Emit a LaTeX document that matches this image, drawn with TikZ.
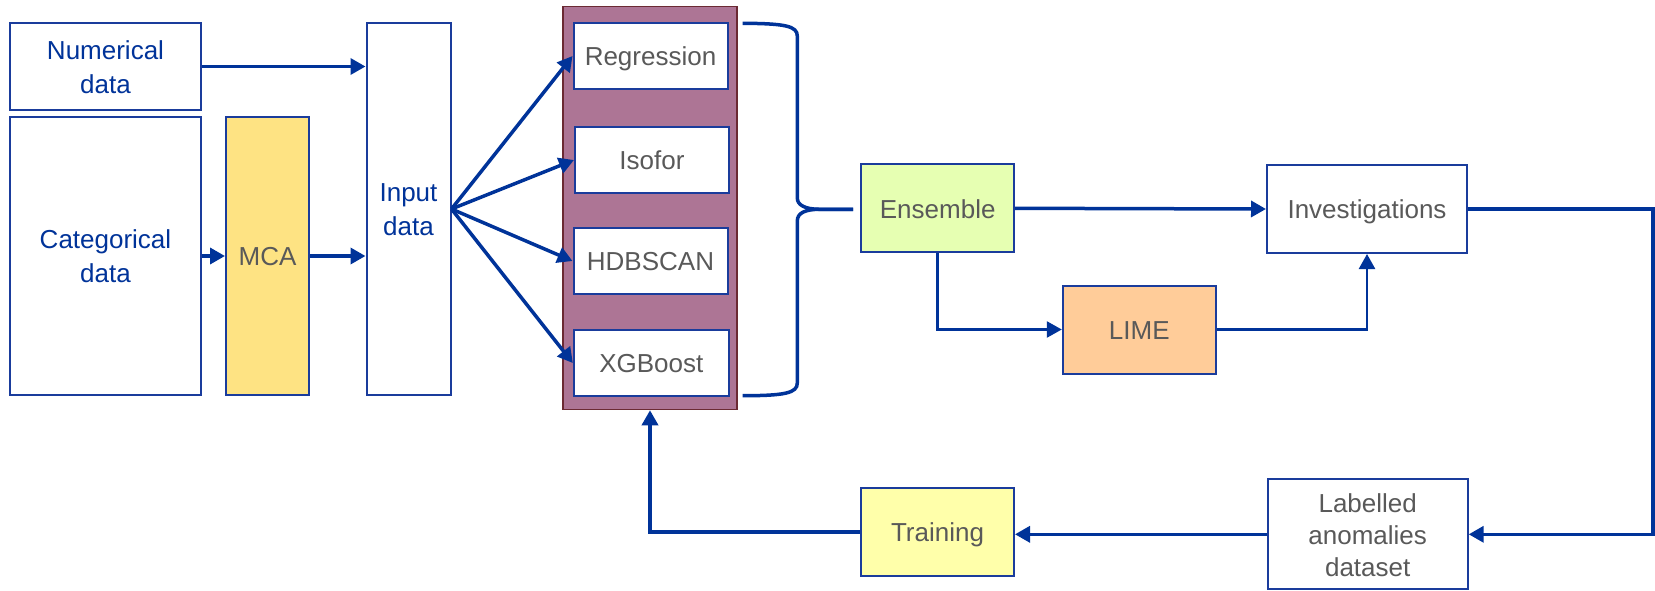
\documentclass[tikz,border=0pt]{standalone}
\usepackage{fontspec}
\setmainfont{Liberation Sans}
\usetikzlibrary{arrows.meta}
\definecolor{lblue}{HTML}{003399}
\definecolor{bblue}{HTML}{1A3C9C}
\definecolor{tgray}{HTML}{595959}
\definecolor{pfill}{HTML}{AD7595}
\definecolor{pborder}{HTML}{6B2A33}
\definecolor{mcafill}{HTML}{FEE383}
\definecolor{ensfill}{HTML}{E6FFB2}
\definecolor{limefill}{HTML}{FFCC99}
\definecolor{trnfill}{HTML}{FFFFAA}
\newcommand{\tx}[2][-3pt]{\raisebox{#1}[\height][\depth]{\begin{tabular}{@{}c@{}}#2\end{tabular}}}
\begin{document}
\begin{tikzpicture}[x=1pt,y=-1pt,
  box/.style={draw=bblue, line width=2pt, fill=white, inner sep=0pt,
    text=tgray, font=\fontsize{26}{34}\selectfont},
  conn/.style={draw=lblue, line width=3.5pt, -{Triangle[length=15pt,width=16pt]}},
  thinconn/.style={draw=lblue, line width=2.5pt, -{Triangle[length=15pt,width=16pt]}},
  bracestyle/.style={draw=lblue, line width=3.5pt}]
\useasboundingbox (0,0) rectangle (1655,590);

% left column
\node[box, text=lblue, minimum width=191, minimum height=87] (num) at (105.5,66.5) {\tx{Numerical\\data}};
\node[box, text=lblue, minimum width=191, minimum height=278] (cat) at (105.5,256) {\tx{Categorical\\data}};
\node[box, fill=mcafill, minimum width=83, minimum height=278] (mca) at (267.5,256) {\tx{MCA}};
\node[box, text=lblue, minimum width=84, minimum height=372] (inp) at (408.5,209) {\tx{Input\\data}};

% models
\node[draw=pborder, fill=pfill, line width=1.5pt, minimum width=174, minimum height=403, inner sep=0pt] (pur) at (650,208) {};
\node[box, minimum width=154, minimum height=66] (reg) at (650.5,56) {\tx{Regression}};
\node[box, minimum width=154, minimum height=66] (iso) at (652,160) {\tx{Isofor}};
\node[box, minimum width=154, minimum height=66] (hdb) at (650.5,261) {\tx{HDBSCAN}};
\node[box, minimum width=155, minimum height=66] (xgb) at (651.3,363) {\tx{XGBoost}};

% right part
\node[box, fill=ensfill, minimum width=153, minimum height=88] (ens) at (937.7,208.3) {\tx{Ensemble}};
\node[box, minimum width=200, minimum height=88] (inv) at (1367,209) {\tx{Investigations}};
\node[box, fill=limefill, minimum width=153, minimum height=88] (lime) at (1139.3,329.5) {\tx{LIME}};
\node[box, fill=trnfill, minimum width=153, minimum height=88] (trn) at (937.5,532) {\tx{Training}};
\node[box, minimum width=200, minimum height=110] (lab) at (1367.7,534.3) {\def\arraystretch{0.94}\tx[-3.4pt]{Labelled\\anomalies\\dataset}};

% connectors
\draw[conn] (num.east) -- (num.east -| inp.west);
\draw[conn] (cat.east) -- (mca.west);
\draw[conn] (mca.east) -- (mca.east -| inp.west);
\draw[conn] (inp.east) -- (reg.west);
\draw[conn] (inp.east) -- (iso.west);
\draw[conn] (inp.east) -- (hdb.west);
\draw[conn] (inp.east) -- (xgb.west);

% brace
\draw[bracestyle] (742.7,23.3) .. controls (785,23.5) and (797.3,26) .. (797.3,36)
  -- (797.3,198) .. controls (797.3,205) and (805,209.3) .. (820,209.3) -- (853,209.3);
\draw[bracestyle] (853,209.3) -- (820,209.3) .. controls (805,209.3) and (797.3,213) .. (797.3,221)
  -- (797.3,383) .. controls (797.3,393) and (785,395.7) .. (742.7,395.7);

\draw[conn] (ens.east) -- (inv.west);
\draw[thinconn] (ens.south) |- (lime.west);
\draw[thinconn] (lime.east) -| (inv.south);
\draw[conn] (inv.east) -- ++(185,0) |- (lab.east);
\draw[conn] (lab.west) -- (lab.west -| trn.east);
\draw[conn] (trn.west) -| (pur.south);
\end{tikzpicture}
\end{document}
